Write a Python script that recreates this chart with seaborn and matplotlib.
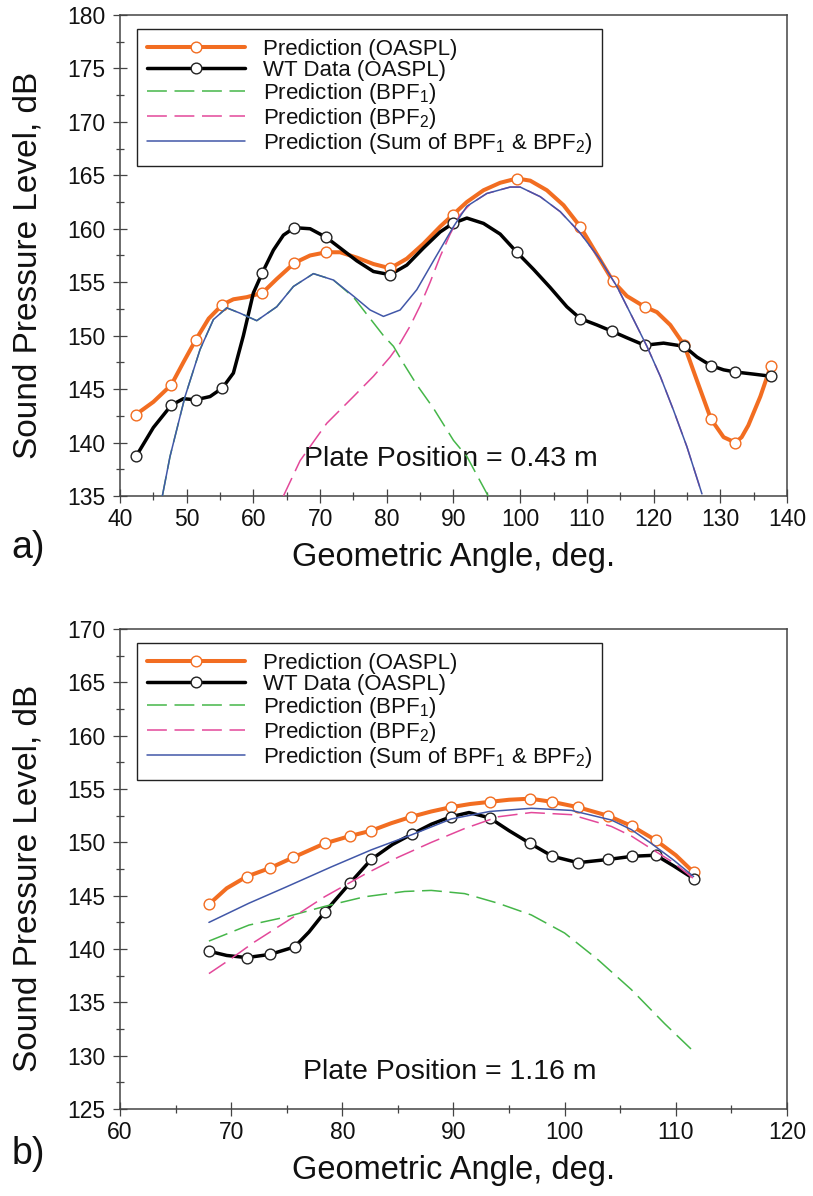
import matplotlib
matplotlib.use('Agg')
import matplotlib.pyplot as plt
from matplotlib.lines import Line2D
from matplotlib.ticker import MultipleLocator
import seaborn as sns

# ---- panel a) plate position 0.43 m ----
a_oaspl_pts_x = [42.35, 47.7, 51.35, 55.35, 61.35, 66.15, 70.9, 80.5, 89.9, 99.5, 109.0, 113.9, 118.65, 124.6, 128.6, 132.25, 137.6]
a_oaspl_pts_y = [142.6, 145.4, 149.6, 152.9, 154.0, 156.8, 157.8, 156.3, 161.3, 164.7, 160.2, 155.1, 152.7, 149.1, 142.2, 140.0, 147.2]
a_wt_pts_x = [42.4, 47.7, 51.35, 55.35, 61.35, 66.15, 70.9, 80.5, 89.9, 99.5, 109.0, 113.8, 118.65, 124.6, 128.6, 132.25, 137.6]
a_wt_pts_y = [138.7, 143.5, 144.0, 145.1, 155.9, 160.1, 159.2, 155.7, 160.5, 157.8, 151.6, 150.4, 149.1, 149.0, 147.2, 146.6, 146.2]

a_oaspl_line_x = [42.35, 45, 47.7, 49.5, 51.35, 53.3, 55.35, 57, 59, 61.35, 63.5, 66.15, 68.5, 70.9, 73, 75.5, 78, 80.5, 83, 85.5, 88,
                  89.9, 92, 94.5, 97, 99.5, 101.5, 104, 106.5, 109, 111.5, 113.9, 116, 118.65, 120.5, 122.5, 124.6, 126.5, 128.6,
                  130.5, 132.25, 133.2, 134.2, 136, 137.6]
a_oaspl_line_y = [142.6, 143.8, 145.4, 147.5, 149.6, 151.6, 152.9, 153.4, 153.6, 154.0, 155.3, 156.8, 157.5, 157.8, 157.8, 157.3, 156.7,
                  156.3, 157.2, 158.6, 160.2, 161.3, 162.5, 163.6, 164.3, 164.7, 164.5, 163.6, 162.2, 160.2, 157.6, 155.1, 153.7,
                  152.7, 152.2, 151.0, 149.1, 145.8, 142.2, 140.5, 140.0, 140.5, 141.6, 144.3, 147.2]
a_wt_line_x = [42.4, 45, 47.7, 49.5, 51.35, 53.5, 55.35, 57, 58.5, 60, 61.35, 63, 64.5, 66.15, 68.5, 70.9, 73, 75.5, 78, 80.5, 83, 85.5,
               88, 89.9, 92, 94.5, 97, 99.5, 102, 104.5, 107, 109, 111.5, 113.8, 116, 118.65, 121.5, 124.6, 126.5, 128.6, 130.5,
               132.25, 135, 137.6]
a_wt_line_y = [138.7, 141.4, 143.5, 144.1, 144.0, 144.3, 145.1, 146.5, 150.0, 154.0, 155.9, 158.0, 159.4, 160.1, 160.0, 159.2, 158.2,
               157.0, 156.0, 155.7, 156.6, 158.2, 159.7, 160.5, 161.0, 160.5, 159.5, 157.8, 156.2, 154.5, 152.7, 151.6, 151.0,
               150.4, 149.8, 149.1, 149.3, 149.0, 148.0, 147.2, 146.8, 146.6, 146.4, 146.2]

a_sum_x = [46.35, 47.5, 49.75, 52.0, 54.0, 56.0, 58.0, 60.5, 63.5, 66.0, 69.0, 72.0, 75.0, 77.5, 79.5, 82.0, 84.5, 87.0, 90.0, 92.0,
           95.0, 98.5, 100.0, 103.0, 106.0, 109.0, 112.0, 114.5, 117.0, 119.0, 121.0, 123.0, 125.0, 127.25]
a_sum_y = [135.0, 138.7, 144.3, 148.7, 151.5, 152.6, 152.1, 151.4, 152.7, 154.6, 155.8, 155.2, 153.7, 152.4, 151.8, 152.4, 154.3,
           157.0, 160.2, 162.1, 163.3, 163.9, 163.9, 163.0, 161.6, 159.6, 157.1, 154.6, 151.5, 149.0, 146.2, 143.0, 139.6, 135.2]
a_bpf1_x = [46.35, 47.5, 49.75, 52.0, 54.0, 56.0, 58.0, 60.5, 63.5, 66.0, 69.0, 72.0, 75.0, 77.0, 79.5, 81.0, 82.5, 84.5, 87.0,
            90.0, 92.0, 95.2]
a_bpf1_y = [135.0, 138.7, 144.3, 148.7, 151.5, 152.6, 152.1, 151.4, 152.7, 154.6, 155.8, 155.2, 153.6, 152.0, 150.0, 149.0, 147.4,
            145.4, 143.2, 140.2, 138.7, 135.0]
a_bpf2_x = [64.5, 67.0, 69.5, 71.0, 75.0, 78.0, 80.5, 82.0, 83.5, 85.0, 86.5, 88.0, 89.5, 91.0, 92.5, 95.0, 98.5, 100.0, 103.0, 106.0,
            109.0, 112.0, 114.5, 117.0, 119.0, 121.0, 123.0, 125.0, 127.25]
a_bpf2_y = [135.0, 138.3, 140.5, 141.8, 144.3, 146.2, 148.0, 149.3, 150.9, 152.8, 155.0, 157.4, 159.5, 161.3, 162.3, 163.3, 163.9,
            163.9, 163.0, 161.6, 159.6, 157.1, 154.6, 151.5, 149.0, 146.2, 143.0, 139.6, 135.2]

# ---- panel b) plate position 1.16 m ----
b_oaspl_pts_x = [68.0, 71.4, 73.5, 75.6, 78.4, 80.7, 82.6, 86.2, 89.75, 93.25, 96.9, 98.9, 101.2, 103.9, 106.1, 108.2, 111.6]
b_oaspl_pts_y = [144.2, 146.8, 147.6, 148.6, 149.9, 150.6, 151.1, 152.4, 153.3, 153.8, 154.1, 153.8, 153.3, 152.5, 151.5, 150.2, 147.2]
b_wt_pts_x = [68.0, 71.4, 73.5, 75.7, 78.45, 80.7, 82.6, 86.3, 89.75, 93.25, 96.9, 98.9, 101.2, 103.9, 106.1, 108.2, 111.6]
b_wt_pts_y = [139.8, 139.2, 139.5, 140.2, 143.5, 146.2, 148.4, 150.8, 152.4, 152.3, 149.9, 148.7, 148.1, 148.4, 148.7, 148.8, 146.6]

b_oaspl_line_x = [68.0, 69.6, 71.4, 73.5, 75.6, 78.4, 80.7, 82.6, 84.4, 86.2, 88.0, 89.75, 91.5, 93.25, 95.0, 96.9, 98.9, 101.2,
                  103.9, 106.1, 108.2, 110.0, 111.6]
b_oaspl_line_y = [144.2, 145.7, 146.8, 147.6, 148.6, 149.9, 150.6, 151.1, 151.8, 152.4, 152.9, 153.3, 153.6, 153.8, 154.0, 154.1,
                  153.8, 153.3, 152.5, 151.5, 150.2, 148.8, 147.2]
b_wt_line_x = [68.0, 69.6, 71.4, 73.5, 75.7, 77.0, 78.45, 80.7, 82.6, 84.5, 86.3, 88.0, 89.75, 91.4, 93.25, 95.0, 96.9, 98.9, 101.2,
               103.9, 106.1, 108.2, 109.8, 111.6]
b_wt_line_y = [139.8, 139.4, 139.2, 139.5, 140.2, 141.6, 143.5, 146.2, 148.4, 149.8, 150.8, 151.7, 152.4, 152.8, 152.3, 151.1, 149.9,
               148.7, 148.1, 148.4, 148.7, 148.8, 147.8, 146.6]

b_sum_x = [68.0, 71.6, 74.9, 79.0, 82.6, 86.2, 89.8, 93.25, 97.0, 100.6, 104.2, 106.0, 107.8, 109.85, 111.6]
b_sum_y = [142.5, 144.3, 145.8, 147.7, 149.3, 150.7, 152.2, 152.9, 153.2, 153.0, 152.1, 151.2, 149.9, 148.3, 146.8]
b_bpf1_x = [68.0, 71.6, 74.9, 78.4, 82.0, 85.6, 88.0, 91.0, 94.0, 97.0, 100.0, 103.0, 106.0, 109.0, 111.8]
b_bpf1_y = [140.75, 142.25, 143.0, 144.0, 144.9, 145.4, 145.5, 145.2, 144.3, 143.2, 141.5, 139.0, 136.2, 133.0, 130.2]
b_bpf2_x = [68.0, 70.0, 72.0, 75.0, 78.4, 82.0, 85.0, 88.0, 91.0, 94.0, 97.0, 100.6, 104.2, 106.0, 107.8, 109.8, 111.6]
b_bpf2_y = [137.7, 139.1, 140.6, 142.6, 144.9, 147.0, 148.6, 150.0, 151.3, 152.4, 152.8, 152.6, 151.5, 150.6, 149.4, 148.1, 146.6]

legend_labels = ['Prediction (OASPL)', 'WT Data (OASPL)', 'Prediction (BPF$_1$)',
                 'Prediction (BPF$_2$)', 'Prediction (Sum of BPF$_1$ & BPF$_2$)']

ORANGE = '#F26D21'
BLACK = '#000000'
GREEN = '#45B649'
PINK = '#E3489A'
BLUE = '#4157A8'
AXC = '#444444'

sns.set_theme(style='ticks')
plt.rcParams['font.family'] = ['Liberation Sans', 'DejaVu Sans']
plt.rcParams['mathtext.fontset'] = 'custom'
plt.rcParams['mathtext.rm'] = 'Liberation Sans'
plt.rcParams['mathtext.it'] = 'Liberation Sans:italic'
plt.rcParams['mathtext.bf'] = 'Liberation Sans:bold'

fig = plt.figure(figsize=(8.13, 11.96), dpi=100)
ax_a = fig.add_axes([0.1476, 0.5853, 0.8204, 0.4022])
ax_b = fig.add_axes([0.1476, 0.0727, 0.8204, 0.4013])

DASH = (0, (13, 5))


def draw_panel(ax, oaspl_line, oaspl_pts, wt_line, wt_pts, bpf1, bpf2, summ, xlim, ylim, note, note_xy):
    sns.lineplot(x=oaspl_line[0], y=oaspl_line[1], ax=ax, color=ORANGE, lw=2.9, sort=False, estimator=None, zorder=3)
    sns.lineplot(x=wt_line[0], y=wt_line[1], ax=ax, color=BLACK, lw=2.5, sort=False, estimator=None, zorder=4)
    sns.scatterplot(x=oaspl_pts[0], y=oaspl_pts[1], ax=ax, s=60, facecolor='white', edgecolor=ORANGE, linewidth=1.0, zorder=5)
    sns.scatterplot(x=wt_pts[0], y=wt_pts[1], ax=ax, s=60, facecolor='white', edgecolor='#222222', linewidth=1.0, zorder=6)
    sns.lineplot(x=bpf1[0], y=bpf1[1], ax=ax, color=GREEN, lw=1.1, linestyle=DASH, sort=False, estimator=None, zorder=7)
    sns.lineplot(x=bpf2[0], y=bpf2[1], ax=ax, color=PINK, lw=1.1, linestyle=DASH, sort=False, estimator=None, zorder=7)
    sns.lineplot(x=summ[0], y=summ[1], ax=ax, color=BLUE, lw=1.1, sort=False, estimator=None, zorder=8)

    ax.set_xlim(*xlim)
    ax.set_ylim(*ylim)
    ax.xaxis.set_major_locator(MultipleLocator(10))
    ax.xaxis.set_minor_locator(MultipleLocator(5))
    ax.yaxis.set_major_locator(MultipleLocator(5))
    ax.yaxis.set_minor_locator(MultipleLocator(2.5))
    ax.tick_params(which='major', direction='inout', length=9.5, width=0.9, color=AXC, labelsize=16.5,
                   labelcolor='#111111', top=False, right=False)
    ax.tick_params(which='minor', direction='inout', length=6, width=0.9, color=AXC, top=False, right=False)
    ax.tick_params(axis='y', which='major', pad=6)
    ax.tick_params(axis='x', which='major', pad=4)
    for sp in ax.spines.values():
        sp.set_color(AXC)
        sp.set_linewidth(1.1)

    ax.set_ylabel('Sound Pressure Level, dB', fontsize=24, color='#111111')
    ax.yaxis.set_label_coords(-0.115, 0.48)
    ax.set_xlabel('Geometric Angle, deg.', fontsize=23.5, color='#111111')
    ax.xaxis.set_label_coords(0.5, -0.095)

    ax.text(note_xy[0], note_xy[1], note, fontsize=20.5, ha='center', va='center', color='#111111')

    handles = [
        Line2D([], [], color=ORANGE, lw=2.9, marker='o', ms=7.7, mfc='white', mec=ORANGE, mew=1.0),
        Line2D([], [], color=BLACK, lw=2.5, marker='o', ms=7.7, mfc='white', mec='#222222', mew=1.0),
        Line2D([], [], color=GREEN, lw=1.1, linestyle=DASH),
        Line2D([], [], color=PINK, lw=1.1, linestyle=DASH),
        Line2D([], [], color=BLUE, lw=1.1),
    ]
    leg = ax.legend(handles, legend_labels, loc='upper left', bbox_to_anchor=(0.0255, 0.971), borderaxespad=0,
                    fontsize=16, frameon=True, fancybox=False, edgecolor='#222222', framealpha=1,
                    handlelength=4.4, handletextpad=0.8, labelspacing=0.0, borderpad=0.45, numpoints=1)
    leg.get_frame().set_linewidth(1.0)
    for t in leg.get_texts():
        t.set_color('#111111')


draw_panel(ax_a, (a_oaspl_line_x, a_oaspl_line_y), (a_oaspl_pts_x, a_oaspl_pts_y),
           (a_wt_line_x, a_wt_line_y), (a_wt_pts_x, a_wt_pts_y),
           (a_bpf1_x, a_bpf1_y), (a_bpf2_x, a_bpf2_y), (a_sum_x, a_sum_y),
           (40, 140), (135, 180), 'Plate Position = 0.43 m', (89.6, 138.5))
draw_panel(ax_b, (b_oaspl_line_x, b_oaspl_line_y), (b_oaspl_pts_x, b_oaspl_pts_y),
           (b_wt_line_x, b_wt_line_y), (b_wt_pts_x, b_wt_pts_y),
           (b_bpf1_x, b_bpf1_y), (b_bpf2_x, b_bpf2_y), (b_sum_x, b_sum_y),
           (60, 120), (125, 170), 'Plate Position = 1.16 m', (89.7, 128.5))

fig.text(0.014, 0.5418, 'a)', fontsize=27, ha='left', va='center', color='#111111')
fig.text(0.014, 0.0351, 'b)', fontsize=27, ha='left', va='center', color='#111111')

fig.savefig('out.png', dpi=100, facecolor='white')
